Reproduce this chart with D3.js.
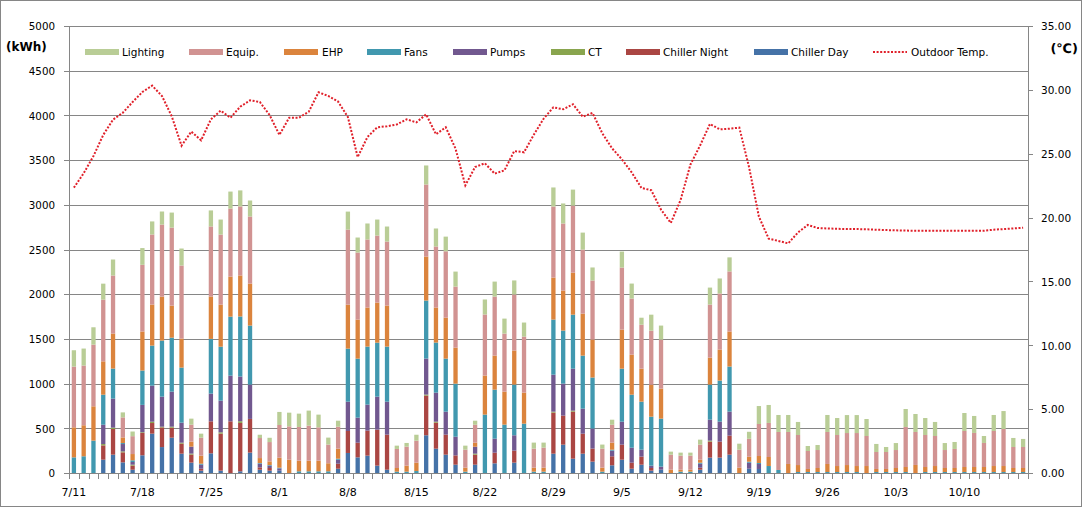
<!DOCTYPE html>
<html><head><meta charset="utf-8">
<script src="https://cdn.jsdelivr.net/npm/d3@7"></script>
<style>
body{margin:0;background:#fff}
svg{display:block}
text{font-family:"DejaVu Sans",Verdana,sans-serif;fill:#000}
</style>
</head><body>
<svg id="c" width="1083" height="508"></svg>
<script>
const dates = ["7/11","7/12","7/13","7/14","7/15","7/16","7/17","7/18","7/19","7/20","7/21","7/22","7/23","7/24","7/25","7/26","7/27","7/28","7/29","7/30","7/31",
"8/1","8/2","8/3","8/4","8/5","8/6","8/7","8/8","8/9","8/10","8/11","8/12","8/13","8/14","8/15","8/16","8/17","8/18","8/19","8/20","8/21","8/22","8/23","8/24","8/25","8/26","8/27","8/28","8/29","8/30","8/31",
"9/1","9/2","9/3","9/4","9/5","9/6","9/7","9/8","9/9","9/10","9/11","9/12","9/13","9/14","9/15","9/16","9/17","9/18","9/19","9/20","9/21","9/22","9/23","9/24","9/25","9/26","9/27","9/28","9/29","9/30",
"10/1","10/2","10/3","10/4","10/5","10/6","10/7","10/8","10/9","10/10","10/11","10/12","10/13","10/14","10/15","10/16"];

const chillerDay = [0,0,0,149,205,119,37,198,440,290,395,216,116,26,220,26,0,19,228,37,26,
26,0,0,0,0,0,48,224,175,194,82,37,0,0,0,422,272,205,93,0,93,0,108,0,116,0,0,0,216,317,160,
216,127,0,86,149,48,93,26,37,0,0,0,37,172,172,205,0,48,45,0,0,0,0,0,0,0,0,0,0,0,
0,0,0,0,0,0,0,0,0,0,0,0,0,0,0,0];
const chillerNight = [0,0,0,160,287,112,45,250,119,220,112,112,90,22,358,414,578,541,377,26,30,
0,0,0,0,0,0,56,246,164,280,403,392,0,0,0,444,291,224,104,0,112,0,119,0,134,0,0,0,459,325,526,
224,146,0,101,168,67,90,30,0,0,0,0,22,179,179,213,0,0,0,0,0,0,0,0,0,0,0,0,0,0,
0,0,0,0,0,0,0,0,0,0,0,0,0,0,0,0];
const ct = [0,0,0,15,15,11,11,8,15,8,11,11,11,0,0,15,0,19,0,0,0,
0,0,0,0,0,0,0,0,0,0,0,0,0,0,0,11,11,0,0,0,11,0,0,0,0,0,0,0,11,0,11,
0,0,0,0,0,0,0,0,0,0,0,0,0,11,0,0,0,0,0,0,0,0,0,0,0,0,0,0,0,0,
0,0,0,0,0,0,0,0,0,0,0,0,0,0,0,0];
const pumps = [0,0,0,216,325,82,30,306,403,336,392,224,78,45,310,354,511,500,384,41,26,
26,0,0,0,0,0,45,328,280,291,369,369,0,0,0,403,325,257,209,0,78,0,157,0,172,0,0,0,414,358,470,
280,224,0,63,257,168,78,26,34,0,0,0,45,235,224,269,0,67,56,0,0,0,0,0,0,0,0,0,0,0,
0,0,0,0,0,0,0,0,0,0,0,0,0,0,0,0];
const fans = [175,187,362,336,336,11,19,384,448,627,604,616,0,11,612,604,660,672,660,7,7,
7,0,19,19,19,19,11,593,660,649,604,616,15,15,22,649,560,593,593,15,0,653,548,541,567,552,15,15,616,593,604,
593,571,15,11,593,593,537,548,537,0,15,15,11,392,459,504,0,11,11,78,34,0,11,11,11,11,11,11,11,0,
11,11,11,11,0,11,11,11,11,11,11,11,11,11,11,11];
const ehp = [336,347,384,373,392,63,70,437,459,492,358,325,56,90,474,470,448,459,470,56,41,
112,149,119,119,119,90,112,492,437,437,448,459,41,67,93,492,392,459,403,45,45,437,381,369,381,347,45,45,470,448,470,
470,425,45,78,437,448,369,358,336,37,22,22,34,302,347,392,60,56,78,101,0,101,78,34,45,90,67,78,67,78,
34,34,45,56,90,56,67,45,45,56,56,56,67,67,45,45];
const equip = [679,668,690,690,649,224,200,746,784,806,873,817,190,201,784,784,761,772,750,224,216,
366,373,377,392,373,209,246,840,750,761,750,716,213,213,246,806,683,742,683,201,201,683,660,649,627,627,213,224,795,750,750,
716,660,213,201,694,627,492,604,548,168,157,157,168,593,627,672,201,201,358,381,425,358,336,201,201,358,347,358,369,336,
190,190,201,448,369,358,336,201,213,403,381,269,392,414,235,235];
const lighting = [183,190,194,179,179,56,52,187,146,146,168,190,67,45,179,168,190,179,179,37,48,
146,153,149,168,142,78,67,201,168,179,179,168,37,41,67,213,201,164,168,45,45,168,168,168,157,157,67,56,213,224,179,
190,146,45,56,179,168,78,179,157,34,34,34,56,190,168,157,67,78,201,201,190,190,146,56,56,190,190,201,201,190,
90,56,78,201,201,190,157,78,78,201,190,78,179,201,101,90];
const outdoorTemp = [22.34,23.47,24.82,26.47,27.67,28.21,29.05,29.83,30.33,29.52,
27.93,25.63,26.73,26.05,27.69,28.37,27.82,28.68,29.18,29.05,
28.03,26.47,27.82,27.82,28.29,29.81,29.52,29.08,27.87,24.74,
26.31,27.07,27.15,27.29,27.69,27.46,28.08,26.52,27.07,25.40,
22.52,23.96,24.25,23.44,23.70,25.21,25.11,26.49,27.74,28.63,
28.48,28.87,27.90,28.19,26.60,25.42,24.56,23.54,22.32,22.14,
20.62,19.58,21.38,24.14,25.66,27.33,26.91,26.96,27.04,23.93,
20.07,18.35,18.17,17.98,18.84,19.42,19.18,19.15,19.12,19.10,
19.10,19.08,19.05,19.02,19.00,18.98,18.97,18.97,18.97,18.97,
18.97,18.97,18.97,18.97,19.05,19.10,19.15,19.20];

const kwhTicks = [0,500,1000,1500,2000,2500,3000,3500,4000,4500,5000];
const tempTicks = [0,5,10,15,20,25,30,35];
const seriesNames = ["Chiller Day","Chiller Night","CT","Pumps","Fans","EHP","Equip.","Lighting"];
const seriesColors = ["#4572A7","#AA4643","#89A54E","#71588F","#4198AF","#DB843D","#D19392","#B9CD96"];
const seriesData = [chillerDay,chillerNight,ct,pumps,fans,ehp,equip,lighting];

const L=69,R=1028,T=26,B=473;
const svg=d3.select('#c');
const grey='#868686';

svg.append('rect').attr('x',0.5).attr('y',0.5).attr('width',1081).attr('height',506)
  .attr('fill','#fff').attr('stroke',grey);

const x=d3.scaleBand().domain(dates).range([L,R]);
const y=d3.scaleLinear().domain([0,5000]).range([B,T]);
const y2=d3.scaleLinear().domain([0,35]).range([B,T]);
const bw=x.bandwidth(), barW=bw*0.44;

// gridlines
svg.append('g').selectAll('line').data(kwhTicks).join('line')
  .attr('x1',L).attr('x2',R)
  .attr('y1',d=>Math.round(y(d))+0.5).attr('y2',d=>Math.round(y(d))+0.5)
  .attr('stroke',grey).attr('stroke-width',1);

// stacked bars
const rows=dates.map((d,i)=>{const o={date:d};seriesNames.forEach((k,j)=>o[k]=seriesData[j][i]);return o;});
const stacked=d3.stack().keys(seriesNames)(rows);
svg.append('g').selectAll('g').data(stacked).join('g')
  .attr('fill',(d,i)=>seriesColors[i])
  .selectAll('rect').data(d=>d).join('rect')
  .attr('x',d=>x(d.data.date)+(bw-barW)/2)
  .attr('width',barW)
  .attr('y',d=>y(d[1]))
  .attr('height',d=>Math.max(0,y(d[0])-y(d[1])));

// left axis
const ga=svg.append('g');
ga.append('line').attr('x1',L+0.5).attr('x2',L+0.5).attr('y1',T).attr('y2',B+1).attr('stroke',grey);
ga.selectAll('line.t').data(kwhTicks).join('line').attr('class','t')
  .attr('x1',L-5).attr('x2',L).attr('y1',d=>Math.round(y(d))+0.5).attr('y2',d=>Math.round(y(d))+0.5).attr('stroke',grey);
ga.selectAll('text').data(kwhTicks).join('text')
  .attr('x',55).attr('y',d=>y(d)+0.5).attr('dy','0.36em').attr('text-anchor','end')
  .style('font-size','10.3px').text(d=>d);

// right axis
const gr=svg.append('g');
gr.append('line').attr('x1',R+0.5).attr('x2',R+0.5).attr('y1',T).attr('y2',B+1).attr('stroke',grey);
gr.selectAll('line.t').data(tempTicks).join('line').attr('class','t')
  .attr('x1',R).attr('x2',R+5).attr('y1',d=>Math.round(y2(d))+0.5).attr('y2',d=>Math.round(y2(d))+0.5).attr('stroke',grey);
gr.selectAll('text').data(tempTicks).join('text')
  .attr('x',1041).attr('y',d=>y2(d)+0.5).attr('dy','0.36em')
  .style('font-size','10.5px').text(d=>d.toFixed(2));

// bottom axis
const gb=svg.append('g');
gb.append('line').attr('x1',L).attr('x2',R+1).attr('y1',B+0.5).attr('y2',B+0.5).attr('stroke',grey);
gb.selectAll('line.t').data(d3.range(dates.length+1)).join('line').attr('class','t')
  .attr('x1',i=>Math.round(L+i*bw)+0.5).attr('x2',i=>Math.round(L+i*bw)+0.5)
  .attr('y1',B).attr('y2',B+6).attr('stroke',grey);
gb.selectAll('text').data(dates.filter((d,i)=>i%7===0)).join('text')
  .attr('x',d=>x(d)+bw/2).attr('y',496).attr('text-anchor','middle')
  .style('font-size','11px').text(d=>d);

// temperature line
const line=d3.line().x((d,i)=>x(dates[i])+bw/2).y(d=>y2(d));
svg.append('path').datum(outdoorTemp).attr('d',line).attr('fill','none')
  .attr('stroke','#E0202A').attr('stroke-width',2).attr('stroke-dasharray','2,1.6');

// unit labels
svg.append('text').attr('x',6).attr('y',51).style('font-size','12px').style('font-weight','bold').text('(kWh)');
svg.append('text').attr('x',1078).attr('y',53).attr('text-anchor','end').style('font-size','13px').style('font-weight','bold').text('(℃)');

// legend
const legendItems=[
  {name:"Lighting",color:"#B9CD96",sx:85,tx:122},
  {name:"Equip.",color:"#D19392",sx:189,tx:226},
  {name:"EHP",color:"#DB843D",sx:284,tx:322},
  {name:"Fans",color:"#4198AF",sx:367,tx:404},
  {name:"Pumps",color:"#71588F",sx:453,tx:490},
  {name:"CT",color:"#89A54E",sx:551,tx:588},
  {name:"Chiller Night",color:"#AA4643",sx:626,tx:663},
  {name:"Chiller Day",color:"#4572A7",sx:754,tx:791}
];
const lg=svg.append('g');
legendItems.forEach(it=>{
  lg.append('rect').attr('x',it.sx).attr('y',49).attr('width',34).attr('height',6).attr('fill',it.color);
  lg.append('text').attr('x',it.tx).attr('y',56).style('font-size','10.5px').text(it.name);
});
lg.append('line').attr('x1',873).attr('x2',907).attr('y1',52).attr('y2',52)
  .attr('stroke','#E0202A').attr('stroke-width',2).attr('stroke-dasharray','2,1.6');
lg.append('text').attr('x',911).attr('y',56).style('font-size','10.5px').text('Outdoor Temp.');
</script>
</body></html>
